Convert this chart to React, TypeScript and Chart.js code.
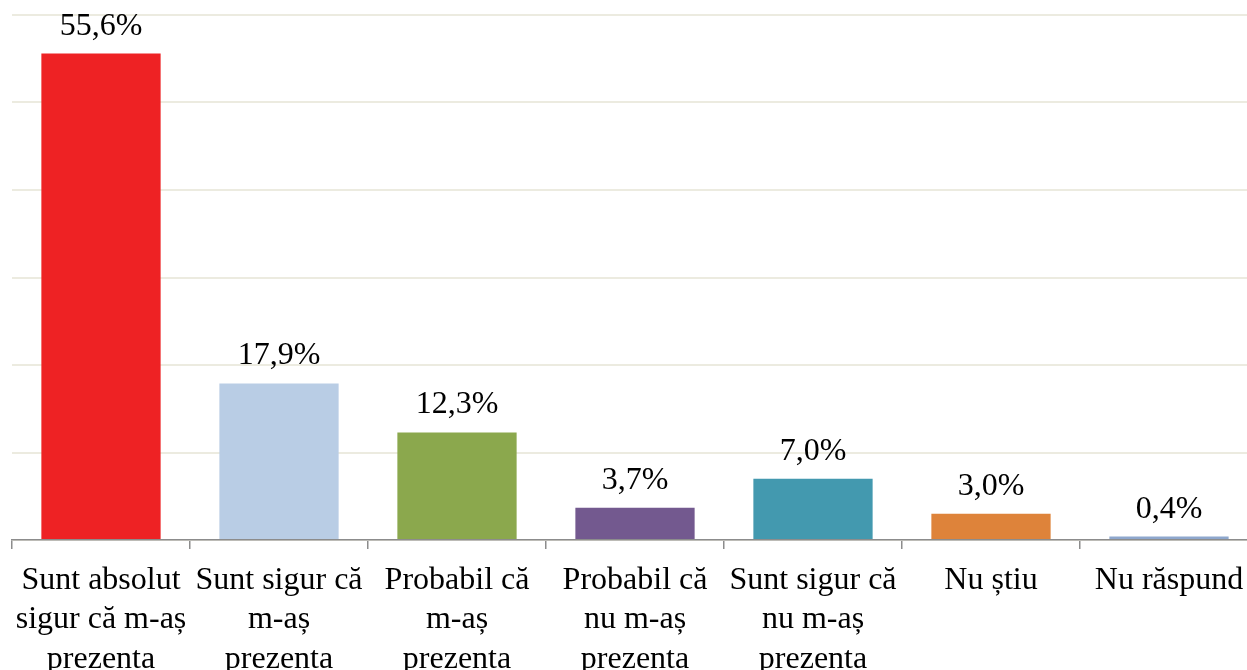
import React, { useEffect, useRef } from "react";
import { Chart, registerables } from "chart.js";

Chart.register(...registerables);

const categories: string[][] = [
  ["Sunt absolut", "sigur că m-aș", "prezenta"],
  ["Sunt sigur că", "m-aș", "prezenta"],
  ["Probabil că", "m-aș", "prezenta"],
  ["Probabil că", "nu m-aș", "prezenta"],
  ["Sunt sigur că", "nu m-aș", "prezenta"],
  ["Nu știu"],
  ["Nu răspund"],
];
const values: number[] = [55.6, 17.9, 12.3, 3.7, 7.0, 3.0, 0.4];
const barColors: string[] = ["#EE2224", "#B9CDE5", "#8BA84D", "#73598F", "#4399AF", "#DE833A", "#8EA7CD"];

const FONT = '"Liberation Serif", "Times New Roman", serif';

const valueLabels = {
  id: "valueLabels",
  afterDatasetsDraw(chart: any) {
    const ctx = chart.ctx;
    const meta = chart.getDatasetMeta(0);
    ctx.save();
    ctx.font = `32px ${FONT}`;
    ctx.fillStyle = "#000000";
    ctx.textAlign = "center";
    ctx.textBaseline = "alphabetic";
    meta.data.forEach((bar: any, i: number) => {
      const txt = values[i].toFixed(1).replace(".", ",") + "%";
      ctx.fillText(txt, bar.x, bar.y - 19);
    });
    ctx.restore();
  },
};

export default function App() {
  const ref = useRef<HTMLCanvasElement | null>(null);
  useEffect(() => {
    if (!ref.current) return;
    const chart = new Chart(ref.current, {
      type: "bar",
      data: {
        labels: categories,
        datasets: [
          {
            data: values,
            backgroundColor: barColors,
            borderWidth: 0,
            barPercentage: 0.67,
            categoryPercentage: 1,
          },
        ],
      },
      options: {
        animation: false,
        responsive: false,
        devicePixelRatio: 1,
        layout: { padding: { left: 12, right: 42, top: 15, bottom: 0 } },
        plugins: { legend: { display: false }, tooltip: { enabled: false } },
        scales: {
          x: {
            afterFit: (s: any) => {
              s.height = 130;
            },
            grid: {
              drawOnChartArea: false,
              drawTicks: true,
              tickLength: 9,
              color: "#8c8c8c",
              lineWidth: 1.5,
              offset: true,
            },
            border: { display: true, color: "#8c8c8c", width: 1.5 },
            ticks: {
              color: "#000000",
              font: { family: FONT, size: 32, lineHeight: 1.23 },
              padding: 12,
              maxRotation: 0,
              autoSkip: false,
            },
          },
          y: {
            min: 0,
            max: 60,
            afterFit: (s: any) => {
              s.width = 0;
            },
            ticks: { display: false, stepSize: 10 },
            grid: { color: "#ecebe0", lineWidth: 2, drawTicks: false },
            border: { display: false },
          },
        },
      },
      plugins: [valueLabels],
    });
    return () => chart.destroy();
  }, []);
  return (
    <div
      style={{
        position: "absolute",
        left: 0,
        top: 0,
        width: 1247,
        height: 670,
        overflow: "hidden",
        background: "#ffffff",
      }}
    >
      <canvas ref={ref} width={1300} height={670} style={{ display: "block" }} />
    </div>
  );
}
